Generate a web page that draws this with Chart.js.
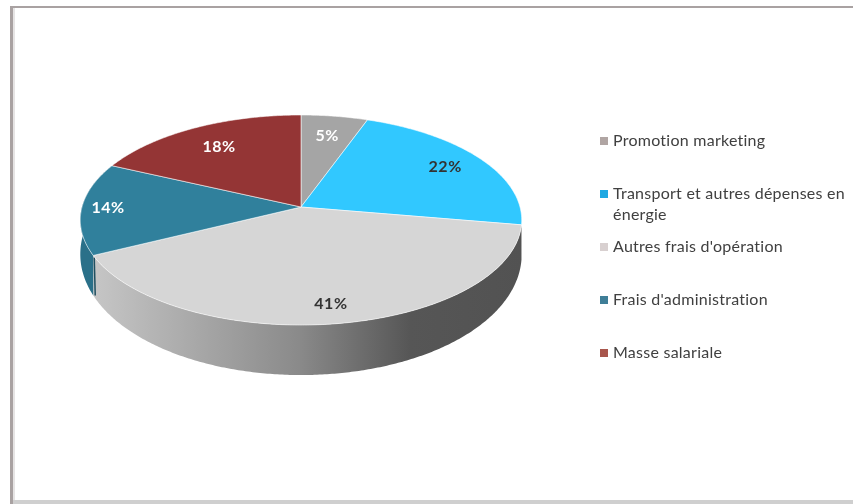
<!DOCTYPE html>
<html>
<head>
<meta charset="utf-8">
<title>Répartition des dépenses</title>
<style>
  html,body{margin:0;padding:0;background:#fff;overflow:hidden}
  #wrap{position:relative;width:853px;height:504px}
</style>
<script src="https://cdn.jsdelivr.net/npm/chart.js@4"></script>
</head>
<body>
<div id="wrap"><canvas id="pie" width="853" height="504"></canvas></div>
<script>
// slices, clockwise from the top
const categories=['Promotion marketing','Transport et autres dépenses en énergie',"Autres frais d'opération","Frais d'administration",'Masse salariale'];
const shares=[5.5,22.2,40,14.2,18.1];
const shareLabels=['5%','22%','41%','14%','18%'];
const sliceColors=['#a5a5a5','#31c8ff','#d6d6d6','#30809c','#943535'];
const wallColors=[null,null,'grad','#2a7089',null];
const legendColors=['#b0a5a3','#1fa8e2','#d8d0d0','#3f7e97','#a8564c'];
const labelColors=['#fff','#333','#333','#fff','#fff'];
const labelFrac=[.76,.8,.85,.88,.75];
const legendY=[141,194,247,300,353];

// fake perspective of the disc
const view={x:301,y:207,fx:219,sy:103.4,q:.124};
const project=(a)=>{ // a = library angle, -PI/2 is the top
  const u=Math.cos(a), v=Math.sin(a), w=1-view.q*v;
  return {x:view.x+view.fx*u/w, y:view.y+view.sy*v/w, v};
};
const depth=(v)=>32+18*v;

const sample=(a0,a1)=>{
  const n=Math.max(2,Math.ceil((a1-a0)/.01)), pts=[];
  for(let i=0;i<=n;i++) pts.push(project(a0+(a1-a0)*i/n));
  return pts;
};

const pie3d={
  id:'pie3d',
  beforeDraw(chart){
    const c=chart.ctx;
    c.save();
    c.fillStyle='#fff'; c.fillRect(0,0,853,504);
    // frame of the sheet
    c.fillStyle='#e6e4e4'; c.fillRect(13,8,2,496);
    c.fillStyle='#a9a2a2'; c.fillRect(10,6,3,498);
    c.fillStyle='#a9a2a2'; c.fillRect(10,6,843,2);
    c.fillStyle='#cfcfcf'; c.fillRect(13,500,840,4);
    c.restore();
  },
  beforeDatasetsDraw(chart){
    const c=chart.ctx, arcs=chart.getDatasetMeta(0).data;
    c.save();
    // outer walls
    arcs.forEach((arc,i)=>{
      if(!wallColors[i]) return;
      const pts=sample(arc.startAngle,arc.endAngle);
      c.beginPath();
      pts.forEach((p,k)=>k?c.lineTo(p.x,p.y):c.moveTo(p.x,p.y));
      pts.slice().reverse().forEach(p=>c.lineTo(p.x,p.y+depth(p.v)));
      c.closePath();
      if(wallColors[i]==='grad'){
        const g=c.createLinearGradient(93,0,522,0);
        g.addColorStop(0,'#c6c6c6'); g.addColorStop(.48,'#8a8a8a');
        g.addColorStop(.74,'#565656'); g.addColorStop(1,'#525252');
        c.fillStyle=g;
      } else c.fillStyle=wallColors[i];
      c.fill();
    });
    // dark seam where the teal wall meets the grey one
    const seam=project(arcs[3].startAngle);
    c.strokeStyle='#1f4f60'; c.lineWidth=1.5;
    c.beginPath(); c.moveTo(seam.x+1,seam.y+2); c.lineTo(seam.x+2,seam.y+depth(seam.v)); c.stroke();
    // top of the disc
    arcs.forEach((arc,i)=>{
      const pts=sample(arc.startAngle,arc.endAngle);
      c.beginPath(); c.moveTo(view.x,view.y);
      pts.forEach(p=>c.lineTo(p.x,p.y));
      c.closePath();
      c.fillStyle=sliceColors[i]; c.fill();
      c.strokeStyle='rgba(255,255,255,.55)'; c.lineWidth=1; c.stroke();
    });
    c.restore();
    return false;
  },
  afterDraw(chart){
    const c=chart.ctx, arcs=chart.getDatasetMeta(0).data;
    c.save();
    // value labels
    c.font='bold 16px Lato, sans-serif';
    c.letterSpacing='.5px';
    c.textAlign='center'; c.textBaseline='middle';
    arcs.forEach((arc,i)=>{
      const a=(arc.startAngle+arc.endAngle)/2, f=labelFrac[i];
      const u=f*Math.cos(a), v=f*Math.sin(a), w=1-view.q*v;
      c.fillStyle=labelColors[i];
      c.fillText(shareLabels[i],view.x+view.fx*u/w,view.y+view.sy*v/w);
    });
    // legend
    c.font='16px Lato, sans-serif';
    c.letterSpacing='.25px';
    c.textAlign='left';
    categories.forEach((name,i)=>{
      c.fillStyle=legendColors[i];
      c.fillRect(600,legendY[i]-4,8,8);
      c.fillStyle='#404040';
      let line='', y=legendY[i];
      name.split(' ').forEach(word=>{
        const t=line?line+' '+word:word;
        if(c.measureText(t).width>236){ c.fillText(line,613,y); y+=21; line=word; }
        else line=t;
      });
      c.fillText(line,613,y);
    });
    c.restore();
  }
};

new Chart(document.getElementById('pie'),{
  type:'pie',
  data:{labels:categories,datasets:[{data:shares,backgroundColor:sliceColors,borderWidth:0}]},
  options:{
    responsive:false,
    animation:false,
    plugins:{legend:{display:false},tooltip:{enabled:false}}
  },
  plugins:[pie3d]
});
</script>
</body>
</html>
